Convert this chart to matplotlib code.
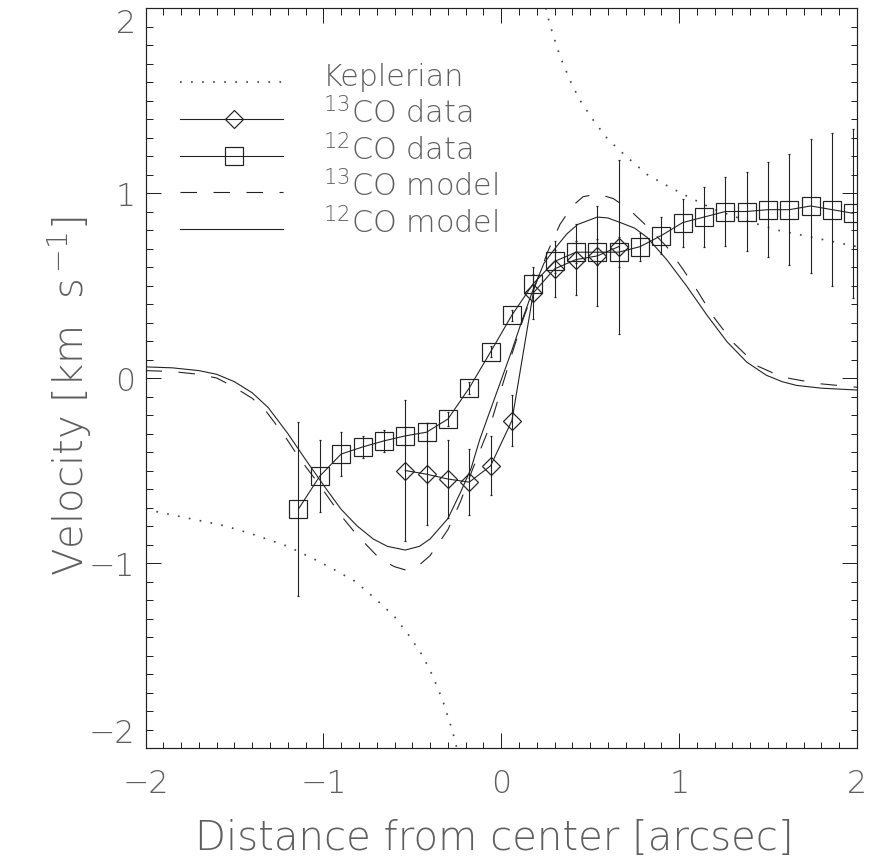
import matplotlib
matplotlib.use("Agg")
import matplotlib.pyplot as plt
from matplotlib.ticker import MultipleLocator, FixedLocator

# ---------------- data ----------------
co12_x = [-1.14, -1.02, -0.90, -0.78, -0.66, -0.54, -0.42, -0.30, -0.18, -0.06,
          0.06, 0.18, 0.30, 0.42, 0.54, 0.66, 0.78, 0.90, 1.02, 1.14,
          1.26, 1.38, 1.50, 1.62, 1.74, 1.86, 1.98]
co12_v = [-0.708, -0.53, -0.411, -0.373, -0.34, -0.313, -0.293, -0.222, -0.054, 0.141,
          0.34, 0.51, 0.63, 0.68, 0.68, 0.68, 0.71, 0.77, 0.84, 0.87,
          0.90, 0.90, 0.91, 0.91, 0.93, 0.91, 0.89]
co12_err = [0.47, 0.195, 0.12, 0.06, 0.06, 0.05, 0.05, 0.04, 0.03, 0.03,
            0.03, 0.05, 0.06, 0.06, 0.07, 0.08, 0.075, 0.10, 0.13, 0.16,
            0.185, 0.215, 0.255, 0.30, 0.36, 0.415, 0.455]

co13_x = [-0.54, -0.42, -0.30, -0.18, -0.06, 0.06, 0.18, 0.30, 0.42, 0.54, 0.66]
co13_v = [-0.50, -0.52, -0.546, -0.563, -0.475, -0.23, 0.46, 0.59, 0.64, 0.66, 0.71]
co13_err = [0.38, 0.275, 0.21, 0.18, 0.16, 0.14, 0.14, 0.15, 0.19, 0.27, 0.47]

model12_x = [-2.0, -1.85, -1.70, -1.60, -1.50, -1.40, -1.31, -1.20, -1.09, -0.98,
             -0.90, -0.81, -0.72, -0.64, -0.54, -0.46, -0.40, -0.30, -0.23, -0.17,
             -0.12, -0.06, 0.0, 0.06, 0.12, 0.18, 0.24, 0.31, 0.37, 0.43,
             0.54, 0.60, 0.67, 0.75, 0.82, 0.93, 1.04, 1.16, 1.27, 1.38,
             1.49, 1.58, 1.66, 1.80, 2.0]
model12_v = [0.06, 0.055, 0.04, 0.02, -0.02, -0.08, -0.16, -0.30, -0.455, -0.605,
             -0.71, -0.80, -0.87, -0.91, -0.93, -0.91, -0.87, -0.76, -0.62, -0.49,
             -0.33, -0.17, -0.01, 0.15, 0.32, 0.48, 0.62, 0.71, 0.78, 0.83,
             0.87, 0.865, 0.84, 0.81, 0.76, 0.64, 0.50, 0.335, 0.195, 0.086,
             0.015, -0.02, -0.04, -0.055, -0.065]

model13_x = [-2.0, -1.85, -1.70, -1.60, -1.50, -1.40, -1.33, -1.22, -1.13, -1.02,
             -0.90, -0.81, -0.68, -0.60, -0.53, -0.46, -0.40, -0.30, -0.23, -0.16,
             -0.06, 0.0, 0.06, 0.12, 0.18, 0.26, 0.33, 0.40, 0.46, 0.54,
             0.63, 0.72, 0.82, 0.93, 1.02, 1.10, 1.19, 1.30, 1.44, 1.58,
             1.78, 2.0]
model13_v = [0.04, 0.035, 0.02, 0.0, -0.05, -0.11, -0.17, -0.31, -0.44, -0.58,
             -0.745, -0.85, -0.98, -1.02, -1.04, -1.01, -0.96, -0.82, -0.67, -0.49,
             -0.25, -0.06, 0.13, 0.31, 0.47, 0.68, 0.83, 0.93, 0.98, 0.995,
             0.97, 0.91, 0.82, 0.71, 0.59, 0.475, 0.335, 0.195, 0.065, 0.005,
             -0.03, -0.05]

kep_up_x = [0.25, 0.26, 0.28, 0.30, 0.33, 0.36, 0.40, 0.45, 0.52, 0.60, 0.70,
            0.82, 0.95, 1.05, 1.20, 1.38, 1.55, 1.75, 2.0]
kep_up_v = [2.0, 1.96, 1.89, 1.83, 1.74, 1.67, 1.58, 1.49, 1.39, 1.29, 1.20,
            1.10, 1.03, 0.98, 0.91, 0.85, 0.80, 0.76, 0.71]
kep_lo_x = [-2.0, -1.75, -1.55, -1.38, -1.20, -1.05, -0.95, -0.82, -0.70, -0.60,
            -0.52, -0.45, -0.40, -0.36, -0.33, -0.30, -0.28, -0.26, -0.25]
kep_lo_v = [-0.71, -0.76, -0.80, -0.85, -0.91, -0.98, -1.03, -1.10, -1.20, -1.29,
            -1.39, -1.49, -1.58, -1.67, -1.74, -1.83, -1.89, -1.96, -2.0]

x_ticks = [-2, -1, 0, 1, 2]
y_ticks = [-2, -1, 0, 1, 2]
legend_labels = ['Keplerian', r'$^{\mathrm{13}}$CO data', r'$^{\mathrm{12}}$CO data',
                 r'$^{\mathrm{13}}$CO model', r'$^{\mathrm{12}}$CO model']

# ---------------- style ----------------
plt.rcParams['font.family'] = ['DejaVu Sans']
plt.rcParams['font.weight'] = 'light'
plt.rcParams['axes.labelweight'] = 'light'
plt.rcParams['mathtext.fontset'] = 'custom'
plt.rcParams['mathtext.rm'] = 'DejaVu Sans:light'
plt.rcParams['mathtext.it'] = 'DejaVu Sans:light'
plt.rcParams['mathtext.bf'] = 'DejaVu Sans:light'

TXT = '#5e5e5e'
LC = '#222222'
PX = 0.72  # one pixel in points at dpi 100

fig = plt.figure(figsize=(8.74, 8.62), dpi=100)
ax = fig.add_axes([145.5 / 874, (862 - 749) / 862, 711.5 / 874, 740 / 862])

dash = (0, (15, 15))
dots = (0, (1, 5.5))
DOT_LW = 1.7 * PX

# models
ax.plot(model13_x, model13_v, color=LC, lw=1.1 * PX, linestyle=dash)
ax.plot(model12_x, model12_v, color=LC, lw=1.1 * PX)
# keplerian
ax.plot(kep_up_x, kep_up_v, color='#444444', lw=DOT_LW, linestyle=dots)
ax.plot(kep_lo_x, kep_lo_v, color='#444444', lw=DOT_LW, linestyle=dots)
# data
ax.errorbar(co12_x, co12_v, yerr=co12_err, fmt='-s', color=LC, lw=1.1 * PX,
            elinewidth=1.1 * PX, capsize=1.0, capthick=1.5 * PX,
            ms=12.4, mfc='none', mec=LC, mew=1.2 * PX)
ax.errorbar(co13_x, co13_v, yerr=co13_err, fmt='-D', color=LC, lw=1.1 * PX,
            elinewidth=1.1 * PX, capsize=1.0, capthick=1.5 * PX,
            ms=8.8, mfc='none', mec=LC, mew=1.2 * PX)

ax.set_xlim(-2, 2)
ax.set_ylim(-2, 2)

# legend drawn by hand in axes coordinates (IDL style)
rows_y = [0.900, 0.850, 0.800, 0.751, 0.701]
lx0, lx1, lxm, ltx = 0.0485, 0.193, 0.124, 0.249
styles = [dict(linestyle=dots, lw=DOT_LW, color='#444444'),
          dict(linestyle='-', lw=1.1 * PX, color=LC),
          dict(linestyle='-', lw=1.1 * PX, color=LC),
          dict(linestyle=dash, lw=1.1 * PX, color=LC),
          dict(linestyle='-', lw=1.1 * PX, color=LC)]
markers = [None, 'D', 's', None, None]
msizes = [0, 8.8, 12.4, 0, 0]
for yy, st, mk, msz, lab in zip(rows_y, styles, markers, msizes, legend_labels):
    ax.plot([lx0, lx1], [yy, yy], transform=ax.transAxes, **st)
    if mk:
        ax.plot([lxm], [yy], transform=ax.transAxes, marker=mk, ms=msz,
                mfc='none', mec=LC, mew=1.2 * PX, linestyle='none')
    ax.text(ltx, yy - 3 / 740, lab, transform=ax.transAxes, fontsize=21.8,
            color=TXT, ha='left', va='baseline')

# axes frame & ticks
for s in ax.spines.values():
    s.set_linewidth(1.2 * PX)
    s.set_color(LC)
ax.xaxis.set_major_locator(FixedLocator(x_ticks))
ax.yaxis.set_major_locator(FixedLocator(y_ticks))
ax.xaxis.set_minor_locator(MultipleLocator(0.1))
ax.yaxis.set_minor_locator(MultipleLocator(0.1))
ax.tick_params(which='both', direction='in', top=True, right=True,
               color=LC, width=1.0 * PX)
ax.tick_params(which='major', length=15 * PX)
ax.tick_params(which='minor', length=6.5 * PX)
ax.tick_params(axis='x', which='major', pad=20 * PX, labelsize=22.7, labelcolor=TXT)
ax.tick_params(axis='y', which='major', pad=10 * PX, labelsize=22.7, labelcolor=TXT)
ax.set_xticklabels([f'{t}'.replace('-', '\u2212') for t in x_ticks])
ax.set_yticklabels([f'{t}'.replace('-', '\u2212') for t in y_ticks])
ylabs = ax.get_yticklabels()
ylabs[0].set_va('bottom')
ylabs[-1].set_va('top')

ax.set_xlabel('Distance from center [arcsec]', fontsize=29, color=TXT,
              fontweight='light')
ax.set_ylabel(r'Velocity [km  s$^{\,\mathrm{-1}}$]', fontsize=29, color=TXT,
              fontweight='light')
ax.xaxis.set_label_coords(0.49, -0.121)
ax.xaxis.label.set_va('center')
ax.yaxis.set_label_coords(-0.107, 0.476)
ax.yaxis.label.set_va('center')

fig.savefig('out.png', dpi=100)
